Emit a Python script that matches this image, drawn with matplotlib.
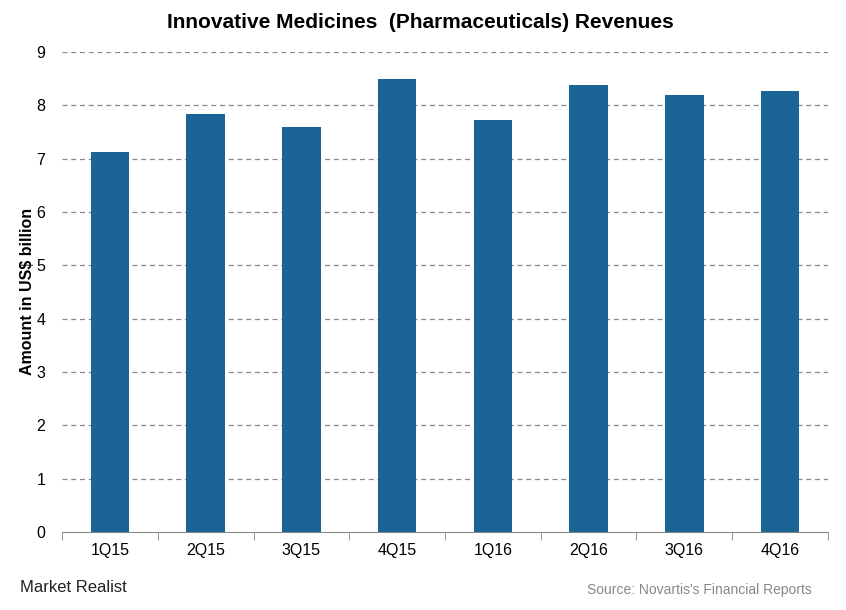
import matplotlib.pyplot as plt

# Quarterly revenues, Innovative Medicines (US$ billion)
quarters = ["1Q15", "2Q15", "3Q15", "4Q15", "1Q16", "2Q16", "3Q16", "4Q16"]
revenues = [7.13, 7.84, 7.60, 8.49, 7.72, 8.38, 8.19, 8.27]
y_ticks = [0, 1, 2, 3, 4, 5, 6, 7, 8, 9]

bar_color = "#1a6496"

fig = plt.figure(figsize=(8.46, 6.10), dpi=100)
ax = fig.add_axes([0.0733, 0.1279, 0.9054, 0.7869])

x = list(range(len(quarters)))
ax.bar(x, revenues, width=0.4, color=bar_color, zorder=3)

ax.set_xlim(-0.5, len(quarters) - 0.5)
ax.set_ylim(0, 9)
ax.set_yticks(y_ticks)
ax.set_yticklabels([str(t) for t in y_ticks], fontsize=11.5, family="Liberation Sans")

# category labels in the middle, tick marks on the boundaries
ax.set_xticks(x)
ax.set_xticklabels(quarters, fontsize=11.5, family="Liberation Sans")
ax.tick_params(axis="x", which="major", length=0, pad=8)
ax.set_xticks([i - 0.5 for i in range(len(quarters) + 1)], minor=True)
ax.tick_params(axis="x", which="minor", length=6, color="#888888", direction="out")
ax.tick_params(axis="y", length=0, pad=12)

for sp in ["left", "right", "top"]:
    ax.spines[sp].set_visible(False)
ax.spines["bottom"].set_color("#888888")

for t in y_ticks[1:]:
    ax.axhline(t, color="#888888", linestyle=(0, (4, 3)), linewidth=0.9, zorder=1)

fig.text(0.032, 0.523, "Amount in US$ billion", rotation=90, ha="center", va="center",
         fontsize=11.5, fontweight="bold", family="Liberation Sans")

fig.text(0.497, 0.963, "Innovative Medicines  (Pharmaceuticals) Revenues",
         ha="center", va="center", fontsize=15, fontweight="bold",
         family="Liberation Sans")

fig.text(0.024, 0.037, "Market Realist", ha="left", va="center", fontsize=12,
         color="#222222", family="Liberation Sans")
fig.text(0.96, 0.033, "Source: Novartis's Financial Reports", ha="right", va="center",
         fontsize=10, color="#888888", family="Liberation Sans")

fig.savefig("out.png", dpi=100)
